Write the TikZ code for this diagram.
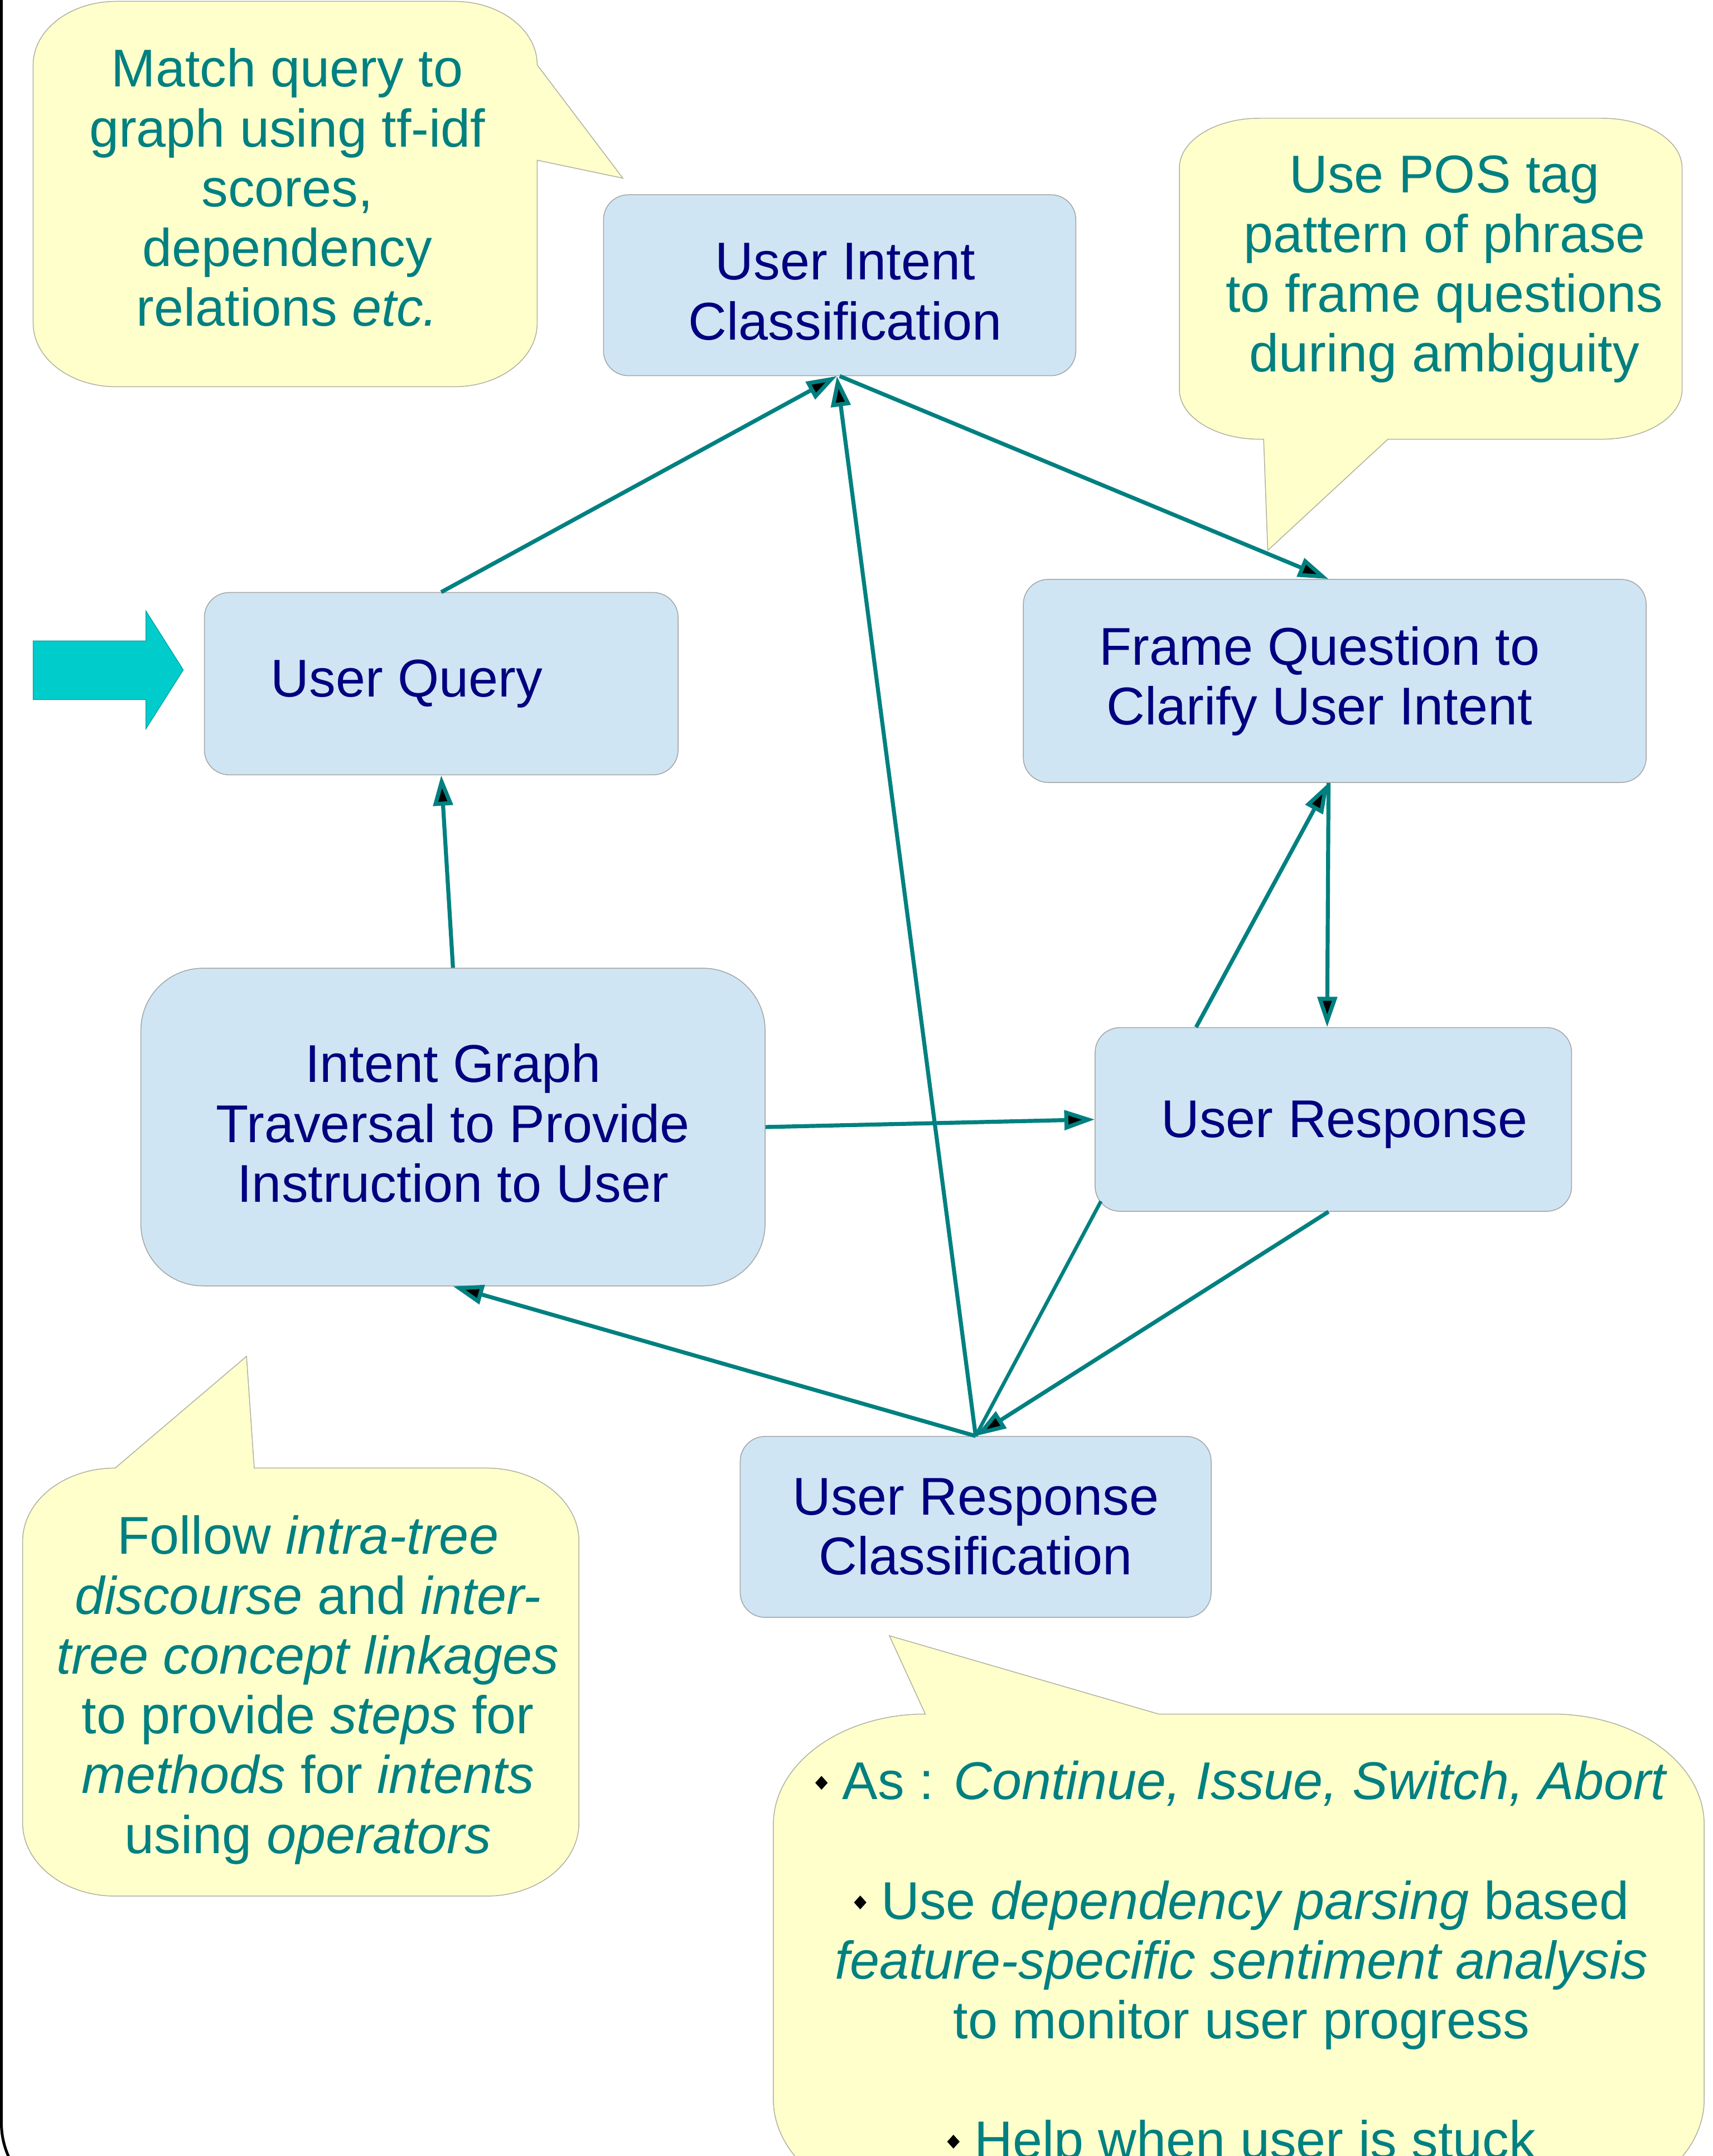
\documentclass[tikz,border=0pt]{standalone}
\usepackage{fontspec}
\setmainfont{Liberation Sans}
\usetikzlibrary{arrows.meta}
\definecolor{boxfill}{HTML}{CFE5F3}
\definecolor{boxline}{HTML}{A4A4A4}
\definecolor{callfill}{HTML}{FFFFCC}
\definecolor{callline}{HTML}{B0B0A0}
\definecolor{mteal}{HTML}{008080}
\definecolor{mynavy}{HTML}{000080}
\definecolor{cyanarrow}{HTML}{00CCCC}
\definecolor{cyanedge}{HTML}{00A0A0}
\newcommand\dbul{\tikz[baseline=0pt,x=1pt,y=1pt]\fill[black] (0,12) -- (4.5,17) -- (9,12) -- (4.5,7) -- cycle;}
\begin{document}
\begin{tikzpicture}[x=1pt,y=-1pt,
  box/.style={draw=boxline, line width=0.6pt, fill=boxfill, rounded corners=18pt,
    text=mynavy, font=\fontsize{38.5}{43.3}\selectfont, align=center, inner sep=0pt},
  callout/.style={draw=callline, line width=0.6pt, fill=callfill},
  calltext/.style={text=mteal, font=\fontsize{38.5}{43.3}\selectfont, align=center,
    inner sep=0pt, anchor=north},
  conn/.style={draw=mteal, line width=2.9pt, -{Triangle[length=22pt,width=14pt]}},
  plainconn/.style={draw=mteal, line width=2.6pt}]
\useasboundingbox (0,0) rectangle (1240,1561);
\clip (0,0) rectangle (1240,1561);
\fill[white] (0,0) rectangle (1240,1561);

% frame edge
\draw[black, line width=2pt] (1,-5) -- (1,1537) .. controls (1,1570) and (28,1597) .. (61,1597);

% callouts
\draw[callout] (84,1) -- (329,1) .. controls (362.1,1) and (389,21.6) .. (389,47)
  -- (451,129) -- (389,116) -- (389,234) .. controls (389,259.4) and (362.1,280) .. (329,280)
  -- (84,280) .. controls (50.9,280) and (24,259.4) .. (24,234)
  -- (24,47) .. controls (24,21.6) and (50.9,1) .. (84,1) -- cycle;
\node[calltext] (ta) at (208,34.8) {Match query to\\graph using tf-idf\\scores,\\dependency\\relations \textit{etc.}};

\draw[callout] (912,85.6) -- (1160,85.6) .. controls (1192,85.6) and (1218,101.7) .. (1218,121.6)
  -- (1218,282) .. controls (1218,301.9) and (1192,318) .. (1160,318)
  -- (1005,318) -- (918,398.5) -- (915,318) -- (912,318)
  .. controls (880,318) and (854,301.9) .. (854,282)
  -- (854,121.6) .. controls (854,101.7) and (880,85.6) .. (912,85.6) -- cycle;
\node[calltext] (tb) at (1046,112.3) {Use POS tag\\pattern of phrase\\to frame questions\\during ambiguity};

\draw[callout] (83.4,1062.9) -- (178.5,982) -- (184.1,1062.9) -- (352.2,1062.9)
  .. controls (389.2,1062.9) and (419.2,1086.6) .. (419.2,1115.9)
  -- (419.2,1319.8) .. controls (419.2,1349.1) and (389.2,1372.8) .. (352.2,1372.8)
  -- (83.4,1372.8) .. controls (46.4,1372.8) and (16.4,1349.1) .. (16.4,1319.8)
  -- (16.4,1115.9) .. controls (16.4,1086.6) and (46.4,1062.9) .. (83.4,1062.9) -- cycle;
\node[calltext] (tc) at (223,1097.2) {Follow \textit{intra-tree}\\\textit{discourse} and \textit{inter-}\\\textit{tree concept linkages}\\to provide \textit{steps} for\\\textit{methods} for \textit{intents}\\using \textit{operators}};

\draw[callout] (670,1241) -- (644,1184.3) -- (839,1241) -- (1124,1241)
  .. controls (1184.7,1241) and (1234,1276.8) .. (1234,1321)
  -- (1234,1520) .. controls (1234,1564.2) and (1184.7,1600) .. (1124,1600)
  -- (670,1600) .. controls (609.3,1600) and (560,1564.2) .. (560,1520)
  -- (560,1321) .. controls (560,1276.8) and (609.3,1241) .. (670,1241) -- cycle;
\node[calltext] (td) at (899,1274.7) {\dbul\ As : \textit{Continue, Issue, Switch, Abort}\\[43.3pt]
  \dbul\ Use \textit{dependency parsing} based\\
  \textit{feature-specific sentiment analysis}\\
  to monitor user progress\\[43.3pt]
  \dbul\ Help when user is stuck};

% entry arrow
\draw[fill=cyanarrow, draw=cyanedge, line width=0.5pt] (24,464) -- (105.7,464) -- (105.7,442.4)
  -- (132.7,485) -- (105.7,527.6) -- (105.7,506.5) -- (24,506.5) -- cycle;

% boxes
\node[box, minimum width=342pt, minimum height=131pt] (uic) at (608,206.5) {\rule{0pt}{36pt}\hspace*{8pt}User Intent\\\hspace*{8pt}Classification};
\node[box, minimum width=343pt, minimum height=132pt] (uq) at (319.5,495) {User Query\hspace*{50pt}};
\node[box, minimum width=451pt, minimum height=147pt] (fq) at (966.5,493) {Frame Question to\hspace*{22pt}\\Clarify User Intent\hspace*{22pt}};
\node[box, minimum width=452pt, minimum height=230pt, rounded corners=45pt] (ig) at (328,816) {Intent Graph\\Traversal to Provide\\Instruction to User\rule[-6pt]{0pt}{6pt}};
\node[box, minimum width=345pt, minimum height=133pt] (ur) at (965.5,810.5) {\rule{0pt}{34pt}\hspace*{16pt}User Response};
\node[box, minimum width=341pt, minimum height=131pt] (urc) at (706.5,1105.5) {User Response\\Classification};

% connectors
\draw[conn] (uq.north) -- ([xshift=-2pt]uic.south);
\draw[conn] (uic.south) -- ([xshift=-4.5pt]fq.north);
\draw[conn] (urc.north) -- ([xshift=-2pt]uic.south);
\draw[conn] (ig.north) -- (uq.south);
\draw[conn] (ig.east) -- (ur.west);
\draw[conn] ([xshift=-99.4pt]ur.north) -- ([xshift=-4.5pt]fq.south);
\draw[conn] ([xshift=-4.5pt]fq.south) -- ([xshift=-4.5pt]ur.north);
\draw[conn] ([xshift=-3.5pt]ur.south) -- (urc.north);
\draw[plainconn] ([shift={(4.5,-7.6)}]ur.south west) -- (urc.north);
\draw[conn] (urc.north) -- (ig.south);
\end{tikzpicture}
\end{document}
